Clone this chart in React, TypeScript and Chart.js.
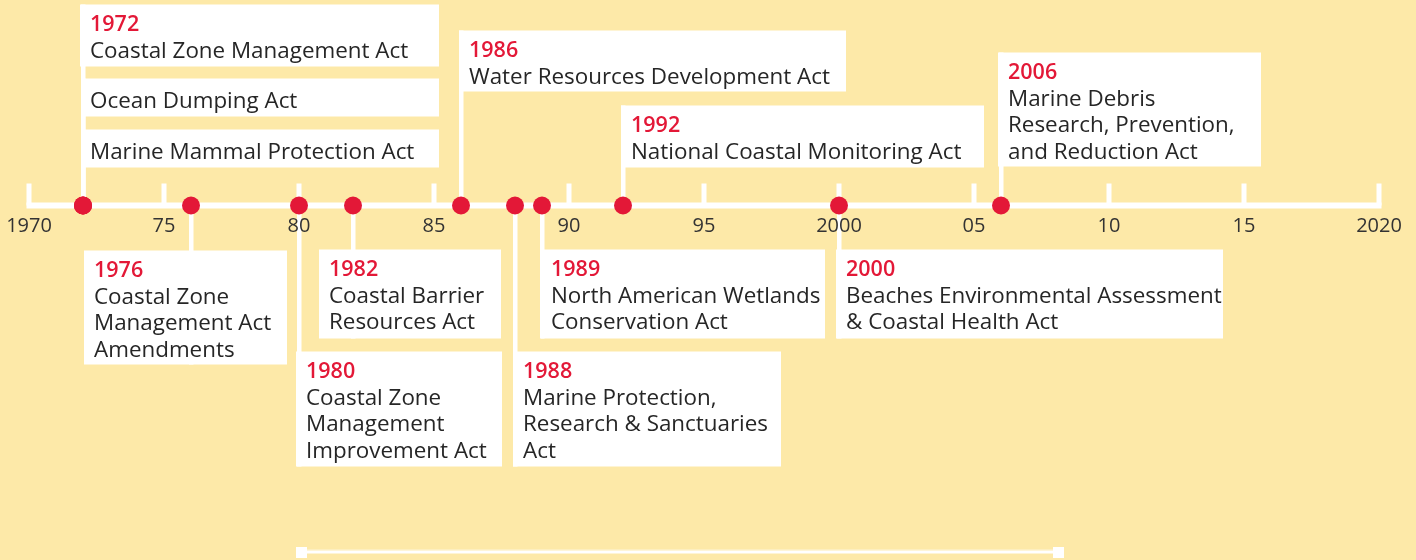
import React, { useEffect, useRef } from 'react';
import { Chart, registerables } from 'chart.js';

Chart.register(...registerables);

// ---------- data ----------
const eventYears = [1972, 1972, 1972, 1976, 1980, 1982, 1986, 1988, 1989, 1992, 2000, 2006];
const eventActs: string[][] = [
  ['Coastal Zone Management Act'],
  ['Ocean Dumping Act'],
  ['Marine Mammal Protection Act'],
  ['Coastal Zone', 'Management Act', 'Amendments'],
  ['Coastal Zone', 'Management', 'Improvement Act'],
  ['Coastal Barrier', 'Resources Act'],
  ['Water Resources Development Act'],
  ['Marine Protection,', 'Research & Sanctuaries', 'Act'],
  ['North American Wetlands', 'Conservation Act'],
  ['National Coastal Monitoring Act'],
  ['Beaches Environmental Assessment', '& Coastal Health Act'],
  ['Marine Debris', 'Research, Prevention,', 'and Reduction Act'],
];
const showYear = [true, false, false, true, true, true, true, true, true, true, true, true];
const tickYears = [1970, 1975, 1980, 1985, 1990, 1995, 2000, 2005, 2010, 2015, 2020];
const tickLabels = ['1970', '75', '80', '85', '90', '95', '2000', '05', '10', '15', '2020'];

// ---------- layout (pixel offsets from the point / axis) ----------
const boxDx = [-3, 2, 2, -107, -3, -34, -2, -2, -1, -2, -3, -3];
const boxDy = [-201, -127, -76, 45, 146, 44, -175, 146, 44, -100, 44, -153];
const boxW = [359, 354, 354, 203, 206, 182, 387, 268, 284, 363, 387, 263];
const boxH = [62, 38, 38, 114, 115, 89, 61, 115, 89, 62, 89, 114];
const boxPad = [10, 5, 5, 10, 10, 10, 10, 10, 10, 10, 10, 10];

const BG = '#FDE9A8';
const RED = '#E31837';
const TEXT = '#262626';
const FONT = '"Open Sans", "Noto Sans", sans-serif';

const timelinePlugin = {
  id: 'timeline',
  beforeDraw(chart: any) {
    const { ctx, scales } = chart;
    const xs = scales.x;
    const ys = scales.y;
    const axisY = ys.getPixelForValue(0);
    ctx.save();
    ctx.fillStyle = BG;
    ctx.fillRect(0, 0, chart.width, chart.height);

    // axis line
    const x0 = xs.getPixelForValue(tickYears[0]);
    const x1 = xs.getPixelForValue(tickYears[tickYears.length - 1]);
    ctx.fillStyle = '#FFFFFF';
    ctx.fillRect(x0 - 2.5, axisY - 3, x1 - x0 + 5, 6);
    // tick marks (upwards)
    tickYears.forEach((t) => {
      const px = xs.getPixelForValue(t);
      ctx.fillRect(px - 2.5, axisY - 22, 5, 22);
    });

    // connectors
    eventYears.forEach((yr, i) => {
      const px = xs.getPixelForValue(yr);
      const top = axisY + boxDy[i];
      ctx.fillStyle = '#FFFFFF';
      if (boxDy[i] < 0) {
        ctx.fillRect(px - 2, top, 4.5, axisY - top);
      } else {
        ctx.fillRect(px - 2, axisY, 4.5, top + boxH[i] - axisY);
      }
    });

    // boxes + text
    eventYears.forEach((yr, i) => {
      const px = xs.getPixelForValue(yr);
      const left = px + boxDx[i];
      const top = axisY + boxDy[i];
      ctx.fillStyle = '#FFFFFF';
      ctx.fillRect(left, top, boxW[i], boxH[i]);
      ctx.textAlign = 'left';
      ctx.textBaseline = 'alphabetic';
      const tx = left + boxPad[i];
      let base: number;
      if (showYear[i]) {
        ctx.fillStyle = RED;
        ctx.font = `600 21.5px ${FONT}`;
        ctx.fillText(String(yr), tx, top + 26.7);
        base = top + 26.7 + 26.5;
      } else {
        base = top + 29.5;
      }
      ctx.fillStyle = TEXT;
      ctx.font = `400 22.4px ${FONT}`;
      eventActs[i].forEach((line, k) => {
        ctx.fillText(line, tx, base + k * 26.5);
      });
    });
    ctx.restore();
  },
  afterDraw(chart: any) {
    const { ctx } = chart;
    ctx.save();
    // bottom range slider decoration
    ctx.fillStyle = 'rgba(255,255,255,0.55)';
    ctx.fillRect(307, 549.5, 746, 1.5);
    ctx.fillStyle = '#FFFFFF';
    ctx.fillRect(307, 551, 746, 2.5);
    ctx.fillRect(296, 547, 11, 11);
    ctx.fillRect(1053, 547, 11, 11);
    ctx.restore();
  },
};

export default function App() {
  const ref = useRef<HTMLCanvasElement | null>(null);
  useEffect(() => {
    if (!ref.current) return;
    const chart = new Chart(ref.current, {
      type: 'scatter',
      data: {
        datasets: [
          {
            data: eventYears.map((y) => ({ x: y, y: 0 })),
            backgroundColor: RED,
            borderWidth: 0,
            pointRadius: 9,
            pointHoverRadius: 9,
            clip: false as any,
          },
        ],
      },
      options: {
        animation: false,
        responsive: false,
        events: [],
        layout: { padding: { left: 29, right: 37, top: 0, bottom: 158 } },
        plugins: { legend: { display: false }, tooltip: { enabled: false } },
        scales: {
          x: {
            type: 'linear',
            min: 1970,
            max: 2020,
            position: { y: 0 } as any,
            grid: { display: false, drawTicks: false },
            border: { display: false },
            afterBuildTicks: (scale: any) => {
              scale.ticks = tickYears.map((v) => ({ value: v }));
            },
            afterFit: (scale: any) => {
              scale.paddingLeft = 0;
              scale.paddingRight = 0;
            },
            ticks: {
              autoSkip: false,
              maxRotation: 0,
              padding: 9,
              color: '#333333',
              font: { family: FONT, size: 20 },
              callback: (v: any) => {
                const idx = tickYears.indexOf(Number(v));
                return idx >= 0 ? tickLabels[idx] : '';
              },
            },
          },
          y: { type: 'linear', min: -1, max: 1, display: false },
        },
      },
      plugins: [timelinePlugin],
    });
    return () => chart.destroy();
  }, []);
  return (
    <div style={{ position: 'absolute', left: 0, top: 0, width: 1416, height: 560, background: BG }}>
      <canvas ref={ref} width={1416} height={560} style={{ display: 'block', width: 1416, height: 560 }} />
    </div>
  );
}
